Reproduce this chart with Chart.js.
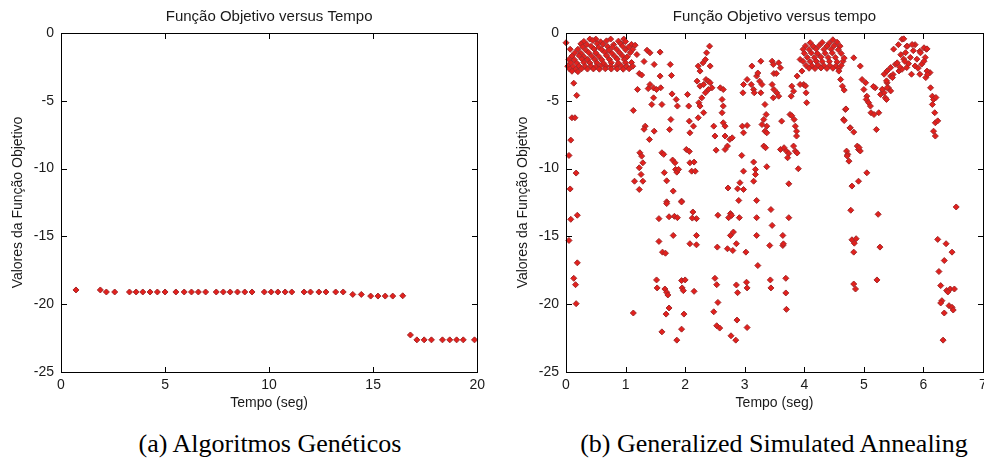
<!DOCTYPE html>
<html>
<head>
<meta charset="utf-8">
<script src="https://cdn.jsdelivr.net/npm/chart.js@4.4.0/dist/chart.umd.min.js"></script>
<style>
  html, body { margin: 0; padding: 0; background: #fff; overflow: hidden; width: 984px; height: 465px; }
  .painel { position: absolute; top: 0; height: 420px; }
  #painelAG { left: 0; width: 490px; }
  #painelGSA { left: 490px; width: 514px; }
  .painel canvas { position: absolute; left: 0; top: 0; }
  .moldura { position: absolute; box-sizing: border-box; border: 1px solid #000; }
  .marca { position: absolute; background: #000; }
  .legenda {
    position: absolute; top: 429px; height: 30px; line-height: 30px;
    font-family: "Liberation Serif", "Times New Roman", serif; font-size: 26px;
    color: #000; text-align: center; white-space: nowrap;
  }
</style>
</head>
<body>
<div class="painel" id="painelAG"><canvas id="graficoAG" width="490" height="420"></canvas></div>
<div class="painel" id="painelGSA"><canvas id="graficoGSA" width="514" height="420"></canvas></div>
<div class="legenda" style="left:120px; width:300px;">(a) Algoritmos Genéticos</div>
<div class="legenda" style="left:574px; width:400px;">(b) Generalized Simulated Annealing</div>

<script>
// ---- dados: (a) Algoritmos Genéticos ----
const gaTempo = [
    0.72, 1.89,
    2.18, 2.58, 3.29, 3.61, 3.93, 4.28, 4.63, 5.00, 5.52, 5.92,
    6.27, 6.60, 6.95, 7.46, 7.80, 8.13, 8.48, 8.83, 9.18, 9.77,
    10.10, 10.42, 10.77, 11.09, 11.68, 11.99, 12.39, 12.73, 13.20, 13.56,
    14.02, 14.43, 14.88, 15.23, 15.58, 15.94, 16.42,
    16.79, 17.10, 17.45, 17.80, 18.33, 18.68, 19.01, 19.33, 19.87
];
const gaValor = [
    -18.95, -18.95,
    -19.1, -19.1, -19.1, -19.1, -19.1, -19.1, -19.1, -19.1, -19.1, -19.1,
    -19.1, -19.1, -19.1, -19.1, -19.1, -19.1, -19.1, -19.1, -19.1, -19.1,
    -19.1, -19.1, -19.1, -19.1, -19.1, -19.1, -19.1, -19.1, -19.1, -19.1,
    -19.28, -19.28, -19.4, -19.4, -19.4, -19.4, -19.38,
    -22.27, -22.63, -22.63, -22.63, -22.63, -22.63, -22.63, -22.63, -22.63
];

// ---- dados: (b) Generalized Simulated Annealing ----
const gsaTempo = [
    // borda esquerda
    0, 0.07, 0.13, 0.18, 0.10, 0.15, 0.08, 0.05, 0.17, 0.07, 0.08, 0.19, 0.05, 0.19, 0.13, 0.16, 0.17,
    // aglomerado inicial
    0.40, 0.50, 0.75, 0.97,
    0.30, 0.45, 0.58, 0.68, 0.88, 1.00,
    0.25, 0.35, 0.52, 0.62, 0.80, 0.92, 1.10, 1.16,
    0.28, 0.42, 0.55, 0.70, 0.78, 0.95, 1.05,
    0.20, 0.33, 0.47, 0.60, 0.72, 0.85, 1.00, 1.12,
    0.15, 0.25, 0.38, 0.50, 0.65, 0.77, 0.90, 1.08,
    0.10, 0.22, 0.30, 0.43, 0.55, 0.68, 0.82, 0.95, 1.03,
    0.05, 0.14, 0.27, 0.36, 0.48, 0.60, 0.73, 0.86, 0.98,
    0.08, 0.18, 0.30, 0.40, 0.52, 0.63, 0.76, 0.88, 1.00, 1.10,
    0.03, 0.12, 0.22, 0.32, 0.42, 0.50, 0.58, 0.67, 0.75, 0.84, 0.93, 1.02, 1.12,
    0.06, 0.16, 0.26, 0.36, 0.46, 0.56, 0.66, 0.76, 0.86, 0.96, 1.06,
    0.10, 0.20,
    // 1.1 a 1.9 s
    1.19, 1.23, 1.27, 1.31, 1.36, 1.41, 1.48, 1.38, 1.41, 1.47, 1.52, 1.58,
    1.58, 1.59, 1.47, 1.44, 1.61, 1.33, 1.31, 1.40, 1.48, 1.13, 1.20, 1.75,
    1.77, 1.78, 1.85, 1.87, 1.76, 1.74, 1.61, 1.64, 1.65, 1.69, 1.79, 1.83,
    1.84, 1.86, 1.89, 1.80, 1.24, 1.27, 1.29, 1.23, 1.26, 1.15, 1.29, 1.23,
    // 2 a 3.2 s
    2.04, 2.06, 2.07, 2.14, 2.08, 2.02, 2.07, 2.08, 2.15, 2.11, 2.17, 2.22,
    2.25, 2.30, 2.34, 2.36, 2.41, 2.42, 2.20, 2.25, 2.31, 2.35, 2.39, 2.42,
    2.45, 2.34, 2.28, 2.23, 2.25, 2.31, 2.22, 2.39, 2.48, 2.50, 2.59, 2.64,
    2.62, 2.64, 2.62, 2.64, 2.67, 2.67, 2.52, 2.67, 2.71, 2.75, 2.79, 2.72,
    2.88, 2.95, 2.98, 2.92, 2.98, 2.96, 2.98, 3.04, 2.98, 3.04, 2.97, 3.12,
    3.11, 3.15, 3.16, 3.15, 3.18, 3.18, 3.15,
    // 3.2 a 4 s
    3.20, 3.22, 3.27, 3.25, 3.29, 3.27, 3.34, 3.36, 3.32, 3.29, 3.37, 3.34,
    3.37, 3.32, 3.35, 3.37, 3.46, 3.48, 3.57, 3.49, 3.53, 3.60, 3.46, 3.49,
    3.54, 3.57, 3.48, 3.62, 3.60, 3.66, 3.70, 3.74, 3.72, 3.74, 3.79, 3.82,
    3.78, 3.76, 3.79, 3.83, 3.85, 3.87, 3.82, 3.85, 3.88, 3.90, 3.87, 3.88,
    3.93, 3.96, 3.99, 4.02, 3.93, 4.04, 4.03,
    // aglomerado perto de 4.3 s
    4.48,
    4.10, 4.30, 4.42, 4.55,
    4.02, 4.15, 4.25, 4.38, 4.50, 4.60,
    3.98, 4.08, 4.20, 4.33, 4.45, 4.57,
    4.00, 4.12, 4.22, 4.35, 4.47, 4.62,
    4.05, 4.17, 4.28, 4.40, 4.52,
    3.98, 4.10, 4.20, 4.30, 4.42, 4.55, 4.65,
    4.03, 4.13, 4.23, 4.33, 4.43, 4.53, 4.62,
    4.08, 4.18, 4.28, 4.38, 4.48, 4.58,
    // 4.6 a 5.5 s
    4.58, 4.61, 4.64, 4.67, 4.69, 4.66, 4.77, 4.83, 4.71, 4.73, 4.75, 4.89,
    4.91, 4.94, 4.80, 4.91, 4.83, 4.94, 4.97, 5.03, 5.00, 5.05, 5.04, 5.08,
    5.11, 5.12, 5.17, 5.05, 5.21, 5.25, 5.28, 5.31, 5.34, 5.36, 5.38, 5.19,
    5.16, 5.39, 5.41, 5.45, 5.49, 4.67, 4.70, 4.67, 4.77, 4.92, 4.72,
    // aglomerado perto de 5.8 s
    5.64, 5.50, 5.58, 5.72, 5.86, 5.94, 6.05, 6.03, 5.89, 5.78, 5.67, 5.53,
    5.45, 5.34, 5.39, 5.59, 5.64, 5.72, 5.80, 5.94, 6.04, 6.11, 5.97, 5.86,
    5.75, 5.48, 5.38, 5.31, 5.39, 5.45, 5.67, 5.73, 5.81, 6.01, 6.06, 5.95,
    6.01, 6.06, 6.07, 5.56, 5.62, 5.70, 5.83, 5.60, 5.69, 5.91, 6.12, 6.15,
    6.17, 6.15, 6.19, 6.20, 6.17, 6.20, 6.21, 6.24,
    // valores abaixo de -12
    1.69, 1.94, 2.90, 3.20, 1.56, 1.69, 1.82, 1.87, 1.73, 1.80, 1.56, 1.62,
    1.67, 1.52, 1.53, 1.66, 1.69, 1.71, 1.73, 1.68, 1.61, 1.86, 1.13, 1.94,
    2.13, 2.19, 2.12, 2.19, 2.08, 2.19, 1.94, 2.00, 1.95, 1.97, 2.15, 1.98,
    1.94, 2.55, 2.76, 2.73, 2.78, 2.91, 2.81, 2.76, 2.54, 2.71, 2.80, 2.86,
    3.02, 3.20, 3.20, 3.44, 3.46, 3.42, 3.22, 3.64, 3.64, 3.65, 3.74, 2.50,
    2.53, 2.55, 2.48, 2.53, 2.58, 2.77, 2.85, 2.87, 2.86, 3.03, 3.04, 2.88,
    3.04, 3.43, 3.44, 3.69, 3.69, 3.70, 4.78, 4.80, 4.84, 4.87, 4.83, 4.83,
    4.86, 5.24, 5.27, 5.22, 6.24, 6.38, 6.48, 6.35, 6.26, 6.29, 6.31, 6.29,
    6.35, 6.39, 6.45, 6.52, 6.43, 6.48, 6.50, 6.41, 6.33, 6.55
];
const gsaValor = [
    // borda esquerda
    -0.72, -1.2, -3.7, -4.6, -6.25, -6.25, -7.9, -9.03, -10.33, -11.5, -13.74, -13.44, -15.3, -16.95, -18.09, -18.56, -19.96,
    // aglomerado inicial
    -0.45, -0.45, -0.45, -0.45,
    -0.62, -0.55, -0.65, -0.58, -0.6, -0.63,
    -0.8, -0.85, -0.78, -0.82, -0.86, -0.8, -0.84, -0.9,
    -1.02, -0.98, -1.05, -1.0, -1.04, -0.97, -1.03,
    -1.2, -1.25, -1.18, -1.22, -1.27, -1.2, -1.24, -1.21,
    -1.45, -1.5, -1.43, -1.47, -1.42, -1.5, -1.46, -1.44,
    -1.7, -1.68, -1.74, -1.7, -1.72, -1.67, -1.73, -1.7, -1.75,
    -1.95, -1.97, -1.93, -1.96, -1.94, -1.98, -1.95, -1.92, -1.97,
    -2.2, -2.22, -2.18, -2.21, -2.2, -2.23, -2.19, -2.22, -2.2, -2.18,
    -2.45, -2.47, -2.44, -2.46, -2.45, -2.48, -2.44, -2.46, -2.45, -2.47, -2.44, -2.46, -2.45,
    -2.65, -2.68, -2.64, -2.66, -2.65, -2.67, -2.64, -2.66, -2.65, -2.67, -2.64,
    -2.82, -2.85,
    // 1.1 a 1.9 s
    -1.59, -2.99, -3.1, -2.1, -1.27, -1.46, -2.32, -4.1, -3.8, -4.05, -4.17, -1.41,
    -3.18, -4.04, -4.78, -5.27, -5.27, -6.87, -7.1, -7.85, -7.24, -5.71, -4.16, -2.32,
    -3.13, -4.49, -4.9, -5.39, -6.38, -7.12, -8.83, -8.95, -10.3, -10.9, -9.37, -9.57,
    -10.06, -10.26, -10.06, -11.66, -8.83, -9.08, -9.57, -9.94, -10.43, -10.93, -10.93, -11.54,
    // 2 a 3.2 s
    -4.53, -5.39, -6.5, -6.87, -7.36, -8.59, -8.73, -9.57, -9.52, -10.19, -10.19, -2.44,
    -2.81, -2.2, -1.96, -1.46, -0.97, -2.44, -3.55, -3.92, -3.8, -3.43, -3.55, -3.67,
    -4.04, -4.41, -4.78, -5.14, -5.39, -5.88, -6.25, -4.17, -6.87, -7.6, -4.04, -4.17,
    -4.9, -5.39, -5.88, -6.62, -6.87, -7.6, -8.64, -8.59, -8.34, -7.85, -7.73, -11.43,
    -11.49, -9.03, -10.19, -11.04, -11.54, -6.87, -7.36, -6.82, -3.8, -3.43, -4.41, -2.44,
    -3.8, -4.17, -4.41, -9.52, -10.06, -10.43, -10.93,
    // 3.2 a 4 s
    -3.18, -2.95, -2.08, -3.55, -3.8, -4.41, -5.27, -6.01, -6.38, -6.75, -6.87, -7.24,
    -7.36, -8.34, -8.46, -9.86, -2.08, -2.32, -2.2, -2.99, -2.99, -2.57, -3.8, -4.17,
    -4.41, -4.66, -4.78, -6.5, -8.59, -8.46, -8.71, -8.88, -9.2, -11.12, -3.92, -4.29,
    -4.66, -6.01, -6.1, -6.38, -6.87, -7.24, -8.34, -8.71, -8.85, -10.01, -7.6, -3.18,
    -1.95, -2.81, -3.8, -3.9, -3.8, -5.14, -4.41,
    // aglomerado perto de 4.3 s
    -0.5,
    -0.72, -0.7, -0.75, -0.68,
    -0.95, -0.98, -0.93, -0.96, -0.94, -0.97,
    -1.2, -1.22, -1.18, -1.21, -1.2, -1.23,
    -1.5, -1.48, -1.52, -1.5, -1.47, -1.51,
    -1.8, -1.82, -1.78, -1.81, -1.8,
    -2.1, -2.12, -2.08, -2.11, -2.1, -2.13, -2.09,
    -2.4, -2.42, -2.38, -2.41, -2.4, -2.43, -2.39,
    -2.6, -2.62, -2.58, -2.61, -2.6, -2.62,
    // 4.6 a 5.5 s
    -2.81, -3.43, -3.92, -4.21, -5.64, -6.38, -6.99, -7.31, -8.71, -8.95, -9.45, -8.34,
    -8.59, -8.7, -11.29, -10.93, -1.83, -2.44, -3.43, -3.67, -4.17, -4.66, -4.9, -5.14,
    -5.39, -5.88, -6.01, -10.31, -7.12, -5.88, -4.53, -4.17, -4.4, -4.78, -4.9, -4.04,
    -3.95, -3.67, -4.04, -3.18, -3.06, -1.85, -5.6, -6.46, -7.0, -8.45, -9.07,
    // aglomerado perto de 5.8 s
    -0.46, -1.19, -0.86, -0.98, -0.86, -1.34, -1.2, -1.8, -1.93, -1.8, -1.93, -2.3,
    -2.55, -3.04, -2.8, -2.8, -2.68, -2.55, -3.04, -3.04, -3.29, -2.92, -2.3, -2.43,
    -2.26, -3.29, -3.53, -4.15, -4.03, -4.27, -0.43, -0.97, -0.85, -1.09, -1.17, -1.46,
    -2.08, -2.81, -3.06, -2.2, -1.6, -1.45, -1.3, -2.5, -2.1, -2.6, -4.04, -4.66,
    -4.9, -5.27, -5.88, -6.62, -7.24, -7.6, -4.76, -6.48,
    // valores abaixo de -12
    -12.45, -12.4, -12.35, -12.35, -13.69, -12.58, -13.52, -13.62, -13.55, -14.93, -15.37, -16.16,
    -16.24, -18.21, -18.8, -18.88, -19.12, -19.32, -20.28, -20.73, -22.04, -22.65, -20.65, -12.46,
    -13.2, -13.69, -13.65, -14.93, -15.54, -15.62, -18.26, -18.21, -18.8, -19.0, -19.05, -20.73,
    -21.84, -13.44, -13.32, -13.62, -13.45, -13.62, -14.68, -14.93, -15.79, -15.91, -16.04, -15.54,
    -16.16, -13.62, -14.93, -13.02, -14.19, -15.67, -17.15, -14.93, -15.67, -15.55, -13.62, -18.09,
    -18.56, -19.87, -20.56, -21.59, -21.76, -22.33, -22.65, -21.17, -18.58, -18.38, -18.8, -19.15,
    -21.72, -18.21, -18.8, -18.09, -19.17, -20.38, -13.07, -15.25, -15.5, -15.17, -16.16, -18.51,
    -18.88, -13.37, -15.79, -18.21, -15.22, -15.54, -16.16, -16.78, -17.59, -18.63, -19.74, -19.91,
    -20.65, -18.99, -18.88, -18.88, -20.11, -20.23, -20.43, -19.1, -22.65, -12.83
];

const yTicks = [0, -5, -10, -15, -20, -25];

const FONTE = '"Liberation Sans", Arial, Helvetica, sans-serif';
const COR_TEXTO = '#1a1a1a';

// caixa e marcas para dentro (estilo MATLAB), postas em cima do canvas
// a partir da área do gráfico e das escalas calculadas pelo Chart.js
function desenharMoldura(chart, painelId) {
    const painel = document.getElementById(painelId);
    const a = chart.chartArea;
    const x = chart.scales.x;
    const y = chart.scales.y;
    const L = Math.round(a.left), R = Math.round(a.right);
    const T = Math.round(a.top), B = Math.round(a.bottom);

    const caixa = document.createElement('div');
    caixa.className = 'moldura';
    caixa.style.left = L + 'px';
    caixa.style.top = T + 'px';
    caixa.style.width = (R - L + 1) + 'px';
    caixa.style.height = (B - T + 1) + 'px';
    painel.appendChild(caixa);

    function marca(left, top, w, h) {
        const m = document.createElement('div');
        m.className = 'marca';
        m.style.left = left + 'px';
        m.style.top = top + 'px';
        m.style.width = w + 'px';
        m.style.height = h + 'px';
        painel.appendChild(m);
    }
    x.ticks.forEach(t => {
        const px = Math.round(x.getPixelForValue(t.value));
        marca(px, B - 5, 1, 5);
        marca(px, T + 1, 1, 5);
    });
    y.ticks.forEach(t => {
        const py = Math.round(y.getPixelForValue(t.value));
        marca(L + 1, py, 5, 1);
        marca(R - 5, py, 5, 1);
    });
}

function criarGrafico(id, titulo, tempo, valor, xMax, xStep, larguraEixoY, padTituloY, padDireita) {
    const pontos = tempo.map((t, i) => ({ x: t, y: valor[i] }));
    return new Chart(document.getElementById(id), {
        type: 'scatter',
        data: {
            datasets: [{
                data: pontos,
                pointStyle: 'rectRot',
                pointRadius: 3,
                pointHoverRadius: 3,
                backgroundColor: '#e3201c',
                borderColor: '#a2282a',
                borderWidth: 1,
                clip: false
            }]
        },
        options: {
            responsive: false,
            animation: false,
            events: [],
            layout: { padding: { top: 0, left: 0, right: padDireita, bottom: 0 } },
            plugins: {
                legend: { display: false },
                tooltip: { enabled: false },
                title: {
                    display: true,
                    text: titulo,
                    fullSize: false,
                    color: COR_TEXTO,
                    font: { family: FONTE, size: 15, weight: 'normal' },
                    padding: { top: 8, bottom: 7 }
                }
            },
            scales: {
                x: {
                    type: 'linear',
                    min: 0,
                    max: xMax,
                    ticks: { stepSize: xStep, padding: 5, maxRotation: 0, color: COR_TEXTO, font: { family: FONTE, size: 14 } },
                    grid: { display: false, drawTicks: false },
                    border: { display: false },
                    title: {
                        display: true,
                        text: 'Tempo (seg)',
                        color: COR_TEXTO,
                        font: { family: FONTE, size: 14 },
                        padding: { top: 0, bottom: 8 }
                    },
                    afterFit(scale) { scale.height = 48; }
                },
                y: {
                    type: 'linear',
                    min: -25,
                    max: 0,
                    afterBuildTicks(scale) { scale.ticks = yTicks.map(v => ({ value: v })); },
                    ticks: { padding: 7, color: COR_TEXTO, font: { family: FONTE, size: 14 } },
                    grid: { display: false, drawTicks: false },
                    border: { display: false },
                    title: {
                        display: true,
                        text: 'Valores da Função Objetivo',
                        color: COR_TEXTO,
                        font: { family: FONTE, size: 14 },
                        padding: { top: padTituloY, bottom: 0 }
                    },
                    afterFit(scale) { scale.width = larguraEixoY; }
                }
            }
        }
    });
}

const graficoAG = criarGrafico('graficoAG', 'Função Objetivo versus Tempo', gaTempo, gaValor, 20, 5, 61, 10, 10);
const graficoGSA = criarGrafico('graficoGSA', 'Função Objetivo versus tempo', gsaTempo, gsaValor, 7, 1, 76, 25, 21);
desenharMoldura(graficoAG, 'painelAG');
desenharMoldura(graficoGSA, 'painelGSA');
</script>
</body>
</html>
